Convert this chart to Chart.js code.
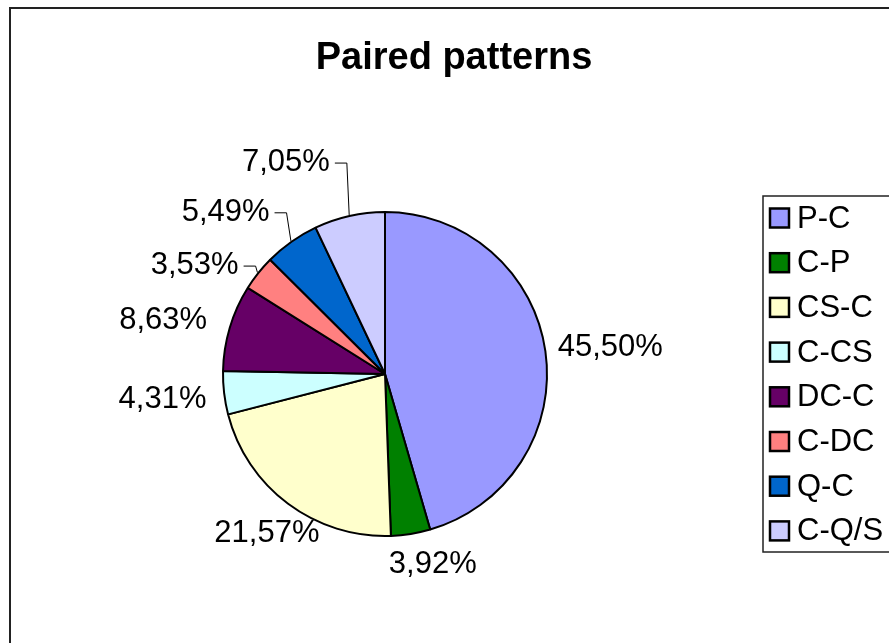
<!DOCTYPE html>
<html>
<head>
<meta charset="utf-8">
<script src="https://cdn.jsdelivr.net/npm/chart.js@4.4.1/dist/chart.umd.min.js"></script>
<style>
  html, body { margin: 0; padding: 0; background: #ffffff; overflow: hidden; }
  #wrap { position: relative; width: 889px; height: 643px; }
</style>
</head>
<body>
<div id="wrap"><canvas id="c" width="889" height="643"></canvas></div>
<script>
// Pattern categories and their shares (percent)
const categories = ['P-C', 'C-P', 'CS-C', 'C-CS', 'DC-C', 'C-DC', 'Q-C', 'C-Q/S'];
const shares = [45.50, 3.92, 21.57, 4.31, 8.63, 3.53, 5.49, 7.05];
const sliceColors = ['#9999FF', '#008000', '#FFFFCC', '#CCFFFF', '#660066', '#FF8080', '#0066CC', '#CCCCFF'];
const chartTitle = 'Paired patterns';

const FONT = '"Liberation Sans", Arial, sans-serif';

const fmtPercent = v => v.toFixed(2).replace('.', ',') + '%';

// Frame, title, data labels with leader lines, and boxed legend
const decorations = {
  id: 'decorations',
  beforeDraw(chart) {
    const ctx = chart.ctx;
    ctx.save();
    ctx.fillStyle = '#ffffff';
    ctx.fillRect(0, 0, chart.width, chart.height);
    ctx.strokeStyle = '#222222';
    ctx.lineWidth = 2;
    ctx.strokeRect(10, 8, 900, 700);
    ctx.restore();
  },
  afterDraw(chart, args, opts) {
    const ctx = chart.ctx;
    ctx.save();

    // title
    ctx.fillStyle = '#000';
    ctx.font = 'bold 38px ' + FONT;
    ctx.textAlign = 'center';
    ctx.textBaseline = 'alphabetic';
    ctx.fillText(chartTitle, 454, 69);

    // data labels
    const meta = chart.getDatasetMeta(0);
    ctx.font = '31px ' + FONT;
    ctx.textAlign = 'center';
    ctx.textBaseline = 'middle';
    ctx.strokeStyle = '#000';
    ctx.lineWidth = 1;
    meta.data.forEach((arc, i) => {
      const p = arc.getProps(['x', 'y', 'startAngle', 'endAngle', 'outerRadius'], true);
      const mid = (p.startAngle + p.endAngle) / 2;
      const ux = Math.cos(mid), uy = Math.sin(mid);
      const text = fmtPercent(shares[i]);
      const w = ctx.measureText(text).width;
      const h = 24;
      const r = p.outerRadius + 1 + opts.gap;
      const shift = opts.shift[i];
      const cx = p.x + ux * r + ux * w / 2 + shift[0];
      const cy = p.y + uy * r + uy * h / 2 + shift[1];
      ctx.fillText(text, cx, cy);
      if (opts.leader[i]) {
        const x0 = cx + w / 2 + 5;
        ctx.beginPath();
        ctx.moveTo(x0, cy + 0.5);
        ctx.lineTo(x0 + 12, cy + 0.5);
        ctx.lineTo(p.x + ux * (p.outerRadius + 1), p.y + uy * (p.outerRadius + 1));
        ctx.stroke();
      }
    });

    // legend
    const lg = opts.legend;
    ctx.strokeStyle = '#222';
    ctx.lineWidth = 1.5;
    ctx.strokeRect(lg.left, lg.top, 200, lg.bottom - lg.top);
    ctx.font = '31px ' + FONT;
    ctx.textAlign = 'left';
    ctx.textBaseline = 'middle';
    const colors = chart.data.datasets[0].backgroundColor;
    chart.data.labels.forEach((lab, i) => {
      const yc = lg.firstRow + i * lg.step;
      ctx.fillStyle = colors[i];
      ctx.fillRect(lg.left + 7, yc - 9.5, 19, 19);
      ctx.strokeStyle = '#000';
      ctx.lineWidth = 2.5;
      ctx.strokeRect(lg.left + 7, yc - 9.5, 19, 19);
      ctx.fillStyle = '#000';
      ctx.fillText(lab, lg.left + 34, yc + 1);
    });

    ctx.restore();
  }
};

new Chart(document.getElementById('c'), {
  type: 'pie',
  data: {
    labels: categories,
    datasets: [{
      data: shares,
      backgroundColor: sliceColors,
      borderColor: '#000000',
      borderWidth: 2
    }]
  },
  options: {
    responsive: false,
    animation: false,
    events: [],
    layout: { padding: { left: 222, right: 341, top: 211, bottom: 106 } },
    plugins: {
      legend: { display: false },
      title: { display: false },
      tooltip: { enabled: false },
      decorations: {
        gap: 12,
        shift: [[0, 0], [13, 6], [18, 10], [-5, 4], [-12, 0], [-19, 8], [-33, -9], [-51, -29]],
        leader: [false, false, false, false, false, true, true, true],
        legend: { left: 763, top: 196, bottom: 552, firstRow: 218, step: 44.7 }
      }
    }
  },
  plugins: [decorations]
});
</script>
</body>
</html>
